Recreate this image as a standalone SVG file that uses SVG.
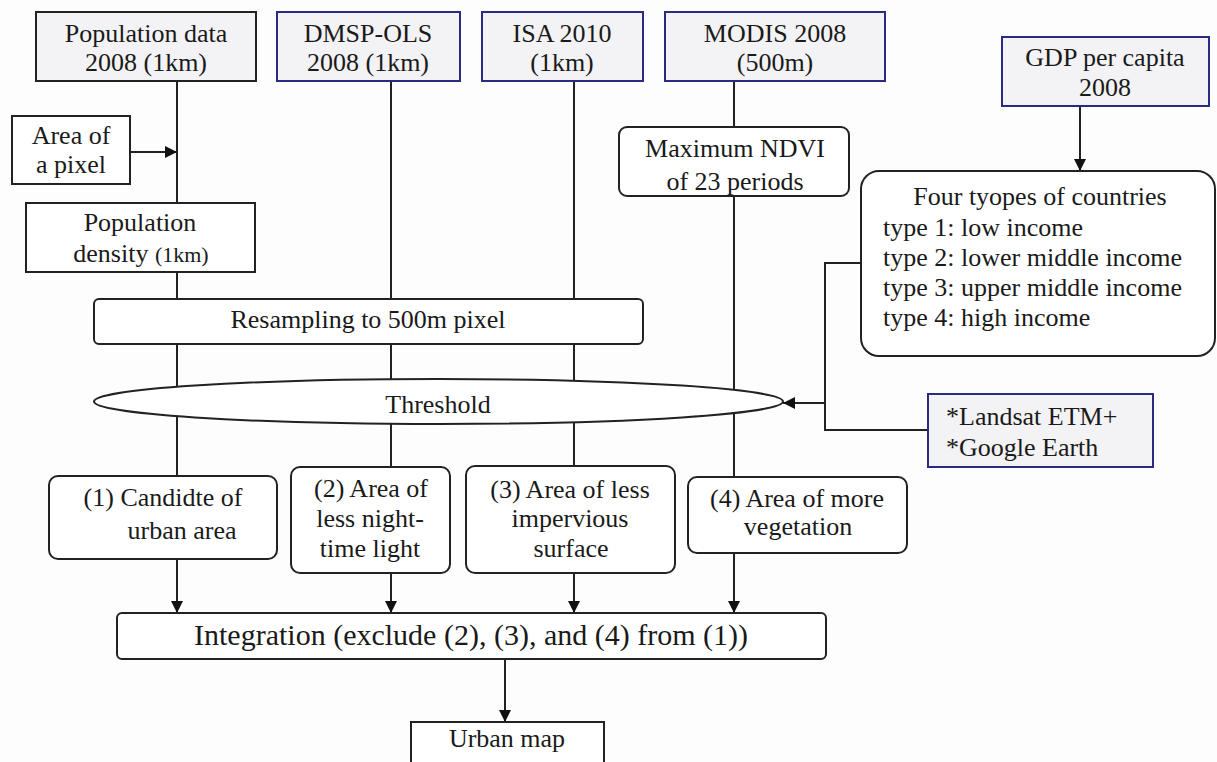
<svg xmlns="http://www.w3.org/2000/svg" width="1217" height="762" viewBox="0 0 1217 762">
<style>
text{font-family:"Liberation Serif","Times New Roman",serif;font-size:26px;fill:#1a1a1a}
.c{text-anchor:middle}
.big{font-size:30px}
.sm{font-size:22px}
.src{fill:#f3f2f4;stroke:#2a2a80;stroke-width:2}
.srcg{fill:#f3f2f4;stroke:#222;stroke-width:2}
.box{fill:#fff;stroke:#222;stroke-width:2}
.ln{fill:none;stroke:#222;stroke-width:2}
.ar{fill:none;stroke:#222;stroke-width:2;marker-end:url(#ah)}
</style>
<defs>
<marker id="ah" viewBox="0 0 10 10" refX="10" refY="5" markerWidth="13" markerHeight="12" markerUnits="userSpaceOnUse" orient="auto">
<path d="M0,0 L10,5 L0,10 z" fill="#111"/>
</marker>
</defs>
<rect width="1217" height="762" fill="#fdfdfd"/>
<g id="connectors">
<line class="ln" x1="177" y1="81" x2="177" y2="203"/>
<line class="ar" x1="130" y1="152" x2="177" y2="152"/>
<line class="ln" x1="177" y1="272" x2="177" y2="299"/>
<line class="ln" x1="391" y1="81" x2="391" y2="299"/>
<line class="ln" x1="574" y1="81" x2="574" y2="299"/>
<line class="ln" x1="734" y1="81" x2="734" y2="127"/>
<line class="ln" x1="734" y1="196" x2="734" y2="477"/>
<line class="ln" x1="177" y1="344" x2="177" y2="476"/>
<line class="ln" x1="391" y1="344" x2="391" y2="467"/>
<line class="ln" x1="574" y1="344" x2="574" y2="466"/>
<line class="ar" x1="1080" y1="106" x2="1080" y2="171"/>
<polyline class="ln" points="861,263 825,263 825,430 928,430"/>
<line class="ar" x1="825" y1="403" x2="783" y2="403"/>
<line class="ar" x1="177" y1="559" x2="177" y2="613"/>
<line class="ar" x1="391" y1="573" x2="391" y2="613"/>
<line class="ar" x1="574" y1="573" x2="574" y2="613"/>
<line class="ar" x1="734" y1="553" x2="734" y2="613"/>
<line class="ar" x1="505" y1="659" x2="505" y2="722"/>
</g>
<g id="pop-data"><rect class="srcg" x="36" y="12" width="220" height="69"/><text class="c" x="146" y="42">Population data</text><text class="c" x="146" y="71">2008 (1km)</text></g>
<g id="dmsp"><rect class="src" x="277" y="12" width="183" height="69"/><text class="c" x="368" y="42">DMSP-OLS</text><text class="c" x="368" y="71">2008 (1km)</text></g>
<g id="isa"><rect class="src" x="482" y="12" width="161" height="69"/><text class="c" x="562" y="42">ISA 2010</text><text class="c" x="562" y="71">(1km)</text></g>
<g id="modis"><rect class="src" x="665" y="12" width="220" height="69"/><text class="c" x="775" y="42">MODIS 2008</text><text class="c" x="775" y="71">(500m)</text></g>
<g id="gdp"><rect class="src" x="1002" y="37" width="207" height="69"/><text class="c" x="1105" y="66">GDP per capita</text><text class="c" x="1105" y="96">2008</text></g>
<g id="area-pixel"><rect class="box" x="12" y="116" width="118" height="68"/><text class="c" x="71" y="144">Area of</text><text class="c" x="71" y="173">a pixel</text></g>
<g id="pop-density"><rect class="box" x="26" y="203" width="229" height="69"/><text class="c" x="140" y="231">Population</text><text class="c" x="141" y="262">density <tspan class="sm">(1km)</tspan></text></g>
<g id="ndvi"><rect class="box" x="619" y="127" width="230" height="69" rx="8"/><text class="c" x="735" y="157">Maximum NDVI</text><text class="c" x="735" y="190">of 23 periods</text></g>
<g id="four-types"><rect class="box" x="861" y="171" width="354" height="185" rx="18"/><text class="c" x="1040" y="205">Four tyopes of countries</text><text x="883" y="236">type 1: low income</text><text x="883" y="266">type 2: lower middle income</text><text x="883" y="296">type 3: upper middle income</text><text x="883" y="326">type 4: high income</text></g>
<g id="resampling"><rect class="box" x="94" y="299" width="549" height="45" rx="5"/><text class="c" x="368" y="328">Resampling to 500m pixel</text></g>
<g id="threshold"><ellipse class="box" cx="438.5" cy="401.5" rx="344.5" ry="22.5"/><text class="c" x="438" y="413">Threshold</text></g>
<g id="landsat"><rect class="src" x="928" y="394" width="225" height="73"/><text x="946" y="425">*Landsat ETM+</text><text x="946" y="456">*Google Earth</text></g>
<g id="cand"><rect class="box" x="49" y="476" width="228" height="83" rx="9"/><text class="c" x="163" y="506">(1) Candidte of</text><text class="c" x="182" y="539">urban area</text></g>
<g id="night"><rect class="box" x="291" y="467" width="159" height="106" rx="9"/><text class="c" x="371" y="497">(2) Area of</text><text class="c" x="370" y="527">less night-</text><text class="c" x="370" y="557">time light</text></g>
<g id="imperv"><rect class="box" x="466" y="466" width="209" height="107" rx="9"/><text class="c" x="570" y="498">(3) Area of less</text><text class="c" x="570" y="527">impervious</text><text class="c" x="571" y="557">surface</text></g>
<g id="veg"><rect class="box" x="688" y="477" width="219" height="76" rx="9"/><text class="c" x="797" y="507">(4) Area of more</text><text class="c" x="798" y="535">vegetation</text></g>
<g id="integration"><rect class="box" x="117" y="613" width="709" height="46" rx="5"/><text class="c big" x="471" y="645">Integration (exclude (2), (3), and (4) from (1))</text></g>
<g id="urban-map"><rect class="box" x="411" y="722" width="193" height="52"/><text class="c" x="507" y="747">Urban map</text></g>
</svg>
